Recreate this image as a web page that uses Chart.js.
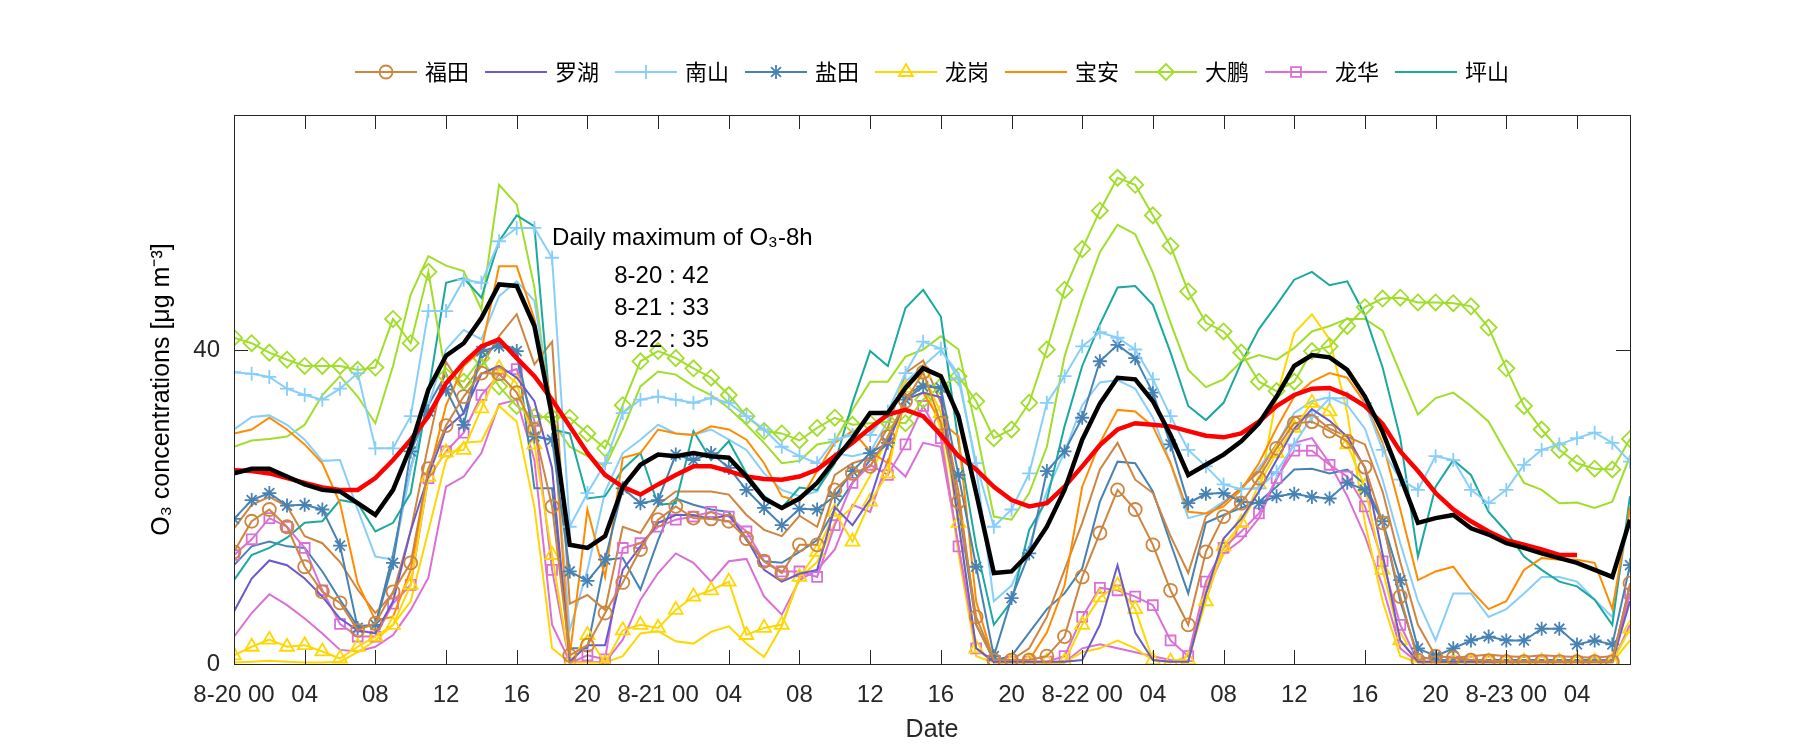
<html>
<head>
  <meta charset="utf-8">
  <title>O3 concentrations</title>
  <script src="https://cdn.jsdelivr.net/npm/chart.js"></script>
  <style>
    body { margin: 0; background: #fff; }
  </style>
</head>
<body>
  <canvas id="o3Chart" width="1800" height="750"></canvas>

  <script>
    // hours since 8-20 00:00
    const hours = Array.from({ length: 80 }, (_, i) => i);

    // tick labels, one every 4 hours
    const xTickLabels = ['8-20 00', '04', '08', '12', '16', '20',
                         '8-21 00', '04', '08', '12', '16', '20',
                         '8-22 00', '04', '08', '12', '16', '20',
                         '8-23 00', '04'];
    const yTicks = [0, 40];

    const stationNames = ['福田', '罗湖', '南山', '盐田', '龙岗', '宝安', '大鹏', '龙华', '坪山'];

    // station series (marker lines)
    const futianM = [14.3, 18.2, 19.7, 17.5, 12.4, 9.2, 7.8, 4.3, 5.2, 9.2,
      12.9, 24.9, 30.4, 34.1, 37.1, 37, 34.6, 29.9, 20.1, 1.1,
      2.4, 6.5, 10.4, 14.6, 18.4, 20.1, 18.6, 18.5, 18.2, 16,
      13.1, 11.6, 15.2, 15.2, 22.2, 24.3, 25.2, 29, 33.5, 37.2,
      30.7, 20.7, 6, 0.5, 0.5, 0.5, 1, 3.5, 11.1, 16.7,
      22.2, 19.7, 15.2, 9.4, 5, 14.3, 18.8, 20.5, 23.7, 27.5,
      30.7, 30.9, 29.7, 28.4, 25.1, 18, 8.6, 0.5, 1, 0.8,
      0.5, 0.4, 0.3, 0.3, 0.3, 0.3, 0.3, 0.3, 0.3, 10.3];
    const luohu = [6.7, 10.9, 13.2, 12.6, 10.9, 8.6, 5.8, 4.3, 3.9, 8,
      17, 24, 30, 32, 37, 38, 36.5, 33.5, 25, 0.3,
      2.4, 2.4, 12, 15, 18, 19, 19, 18.5, 19, 16,
      12, 10.5, 11.5, 12, 20, 17.7, 21, 28, 33.7, 34.6,
      34, 18, 2, 0.3, 0.3, 0.3, 0.3, 0.3, 0.5, 5,
      12.6, 4, 0.5, 0.3, 0.3, 9, 16, 18.5, 22, 26,
      30, 32.5, 31, 29, 25, 14, 3, 0.3, 0.3, 0.3,
      0.3, 0.3, 0.3, 0.3, 0.3, 0.3, 0.3, 0.3, 0.3, 8];
    const nanshanM = [37.2, 37, 36.6, 35.1, 34.3, 33.7, 35.1, 37.1, 27.5, 27.5,
      31.6, 45, 45, 49, 48.6, 53.9, 55.6, 55.6, 51.8, 17.5,
      21.8, 25.6, 32, 33.7, 34.1, 33.7, 33.3, 33.9, 33.3, 31.6,
      29.9, 27.7, 26.5, 25.6, 28.6, 29.2, 29.2, 32.2, 37.1, 41.1,
      40.2, 36.3, 25.6, 17.5, 19.7, 24.3, 33.3, 36.7, 40.5, 42.3,
      41.6, 40.1, 36.3, 31.6, 27.3, 25.2, 22.9, 22.3, 22.4, 24.5,
      28, 31.5, 33.9, 33.9, 33.3, 27.3, 23.5, 22.2, 26.5, 26,
      22.2, 20.5, 22.2, 25.4, 27.3, 28, 28.8, 29.5, 28.2, 25.8];
    const yantianM = [18.5, 20.9, 21.8, 20.2, 20.3, 19.7, 15.1, 4.6, 5, 12.9,
      27.1, 32.2, 35, 30.5, 39.9, 40.5, 39.9, 29, 28.6, 11.8,
      10.6, 13.3, 22.4, 20.5, 20.9, 26.7, 26, 26.9, 25, 22.2,
      19.9, 17.7, 19.8, 19.7, 21.4, 24.6, 26.9, 28.2, 33.7, 35.4,
      35.2, 24.1, 12.4, 1, 8.4, 14.1, 24.6, 27.1, 31.4, 38.6,
      40.7, 39, 34.6, 28, 20.5, 21.7, 21.8, 20.7, 20.5, 21.4,
      21.7, 21.3, 21.1, 23.1, 22.2, 18.2, 10.7, 2, 1, 2,
      3, 3.5, 3, 3, 4.5, 4.5, 2.5, 3, 2.5, 12.6];
    const longgangM = [1.1, 2.2, 3.1, 2.2, 2.4, 1.6, 0.7, 2.2, 3.5, 5,
      10.1, 23.9, 27, 27.3, 32.6, 37.7, 35.8, 28, 13.9, 0.1,
      3.7, 0.1, 4.3, 5, 4.6, 6.9, 8.6, 9.4, 10.5, 3.7,
      4.6, 5, 11.1, 14.3, 19.4, 15.6, 20.7, 24.3, 35.2, 37.1,
      32, 18, 2, 0.3, 0.3, 0.3, 0.3, 0.3, 5, 8.5,
      10, 7, 0.5, 0.3, 0.5, 8, 15, 18, 22.9, 26.9,
      30.1, 33.3, 32.2, 28, 22.6, 12, 3, 0.3, 0.3, 0.3,
      0.3, 0.3, 0.3, 0.3, 0.3, 0.3, 0.3, 0.3, 0.3, 4.5];
    const baoan = [29.4, 29.9, 31.4, 29.9, 28, 25.6, 20.5, 10.3, 5.6, 6,
      12, 24, 33, 38, 40, 50.7, 50.7, 44, 33, 1,
      19.7, 11.1, 26.3, 26.9, 29.9, 29.4, 29.2, 30.3, 29.9, 28.6,
      25.6, 21.4, 20.7, 24.6, 28.2, 29.7, 27.1, 25.6, 33.7, 34.6,
      30.9, 29, 8, 0.3, 0.3, 0.5, 4, 10, 22.6, 28.2,
      32.4, 32.2, 30.3, 25.6, 19.4, 19.2, 20.1, 22.2, 25.6, 30.1,
      34.1, 36, 37.1, 36.5, 33.3, 28.2, 19.7, 10.7, 11.8, 12.4,
      9.4, 7, 8, 12, 13.5, 13.3, 13.3, 12.9, 7, 20];
    const dapengM = [41.6, 40.9, 39.7, 38.8, 38, 38, 38, 37.5, 37.8, 44,
      40.9, 50, 36.7, 36, 39, 35.4, 32.9, 31.5, 31.5, 31.4,
      29.4, 27.5, 33, 38.6, 39.9, 39, 37.7, 36.5, 34.3, 31.6,
      29.7, 29.4, 28.5, 30.1, 31.4, 30.5, 30.7, 30.9, 30.7, 33.7,
      35.4, 36.7, 33.5, 28.8, 29.9, 33.3, 40.1, 47.7, 52.9, 57.8,
      62, 61.1, 57.2, 53.3, 47.5, 43.5, 42.4, 39.7, 36, 34.8,
      36, 39.9, 40.5, 43.1, 45.5, 46.6, 46.7, 46.1, 46.1, 46,
      45.6, 42.9, 37.7, 32.9, 29.9, 27.3, 25.6, 24.9, 24.8, 28.7];
    const longhuaM = [13.9, 15.9, 18.6, 17.5, 14.8, 9.4, 5.1, 3.5, 3.5, 7.7,
      10.1, 23.7, 27.1, 29.5, 34.3, 36.9, 37.6, 31, 12, 0.1,
      1.1, 0.6, 14.8, 15.4, 17.5, 18.4, 18.8, 19.4, 18.8, 16.9,
      13.1, 11.8, 11.8, 11.1, 17.7, 23.1, 25.4, 24.1, 28, 32.9,
      28.8, 15, 2, 0.3, 0.3, 0.3, 0.3, 1, 6, 9.7,
      9.4, 8.6, 7.5, 3, 1, 10.5, 14.8, 16.9, 19.2, 23.7,
      27.2, 27.2, 25.4, 23.9, 20.1, 13.1, 5, 0.3, 0.3, 0.3,
      0.3, 0.3, 0.3, 0.3, 0.3, 0.3, 0.3, 0.3, 0.3, 9];
    const pingshan = [10.7, 13.9, 14.8, 16.1, 18, 18.2, 20.9, 20.5, 16.9, 18,
      21.8, 34.6, 48.6, 49.2, 46.7, 53.9, 57.2, 55.8, 29.9, 29.4,
      21.1, 21.4, 24.8, 26.9, 20.3, 20.5, 29.7, 26, 28.4, 24.3,
      21.4, 19.9, 22.5, 22.2, 25.6, 33.3, 39.9, 38, 45.4, 47.7,
      44.3, 28.2, 15, 5, 8, 17.1, 20.9, 30.3, 38, 43.3,
      48, 48.2, 45.8, 39.7, 32.9, 31.1, 33.3, 38.4, 42.7, 45.8,
      49, 50, 48.3, 48.8, 44.5, 37.8, 28.8, 13.7, 22.6, 26,
      24.1, 19.4, 16.9, 13.7, 12, 10.5, 9.9, 8.2, 5, 21.4];

    // second line of the same stations (no markers)
    const futianP = [17.3, 20.3, 21.3, 20.1, 16.3, 15.4, 13, 9.5, 6.5, 9,
      17, 28, 38.5, 35, 38, 41.8, 44.6, 38.2, 41.1, 7.7,
      8.8, 6.9, 17.5, 16.7, 20.3, 22, 22, 22, 21.6, 19,
      17.1, 16.3, 18.9, 17.5, 24.1, 25.6, 26.3, 30.1, 37.1, 38.7,
      33.3, 22, 5, 0.5, 0.5, 2, 6, 12, 18, 24.8,
      28.2, 23.5, 21.8, 16.3, 11.6, 18.8, 20.5, 22.5, 24.5, 28,
      31.5, 31.8, 30, 29, 28, 22, 13, 5, 1, 0.8,
      1, 1.2, 1, 0.9, 1.1, 1, 0.9, 0.8, 1, 9];
    const nanshanP = [29.9, 31.5, 31.7, 30.5, 28.6, 25.9, 26, 19.7, 13.7, 13.3,
      24.8, 33, 40.1, 42.6, 41.4, 46.9, 48.8, 46.3, 32, 4.3,
      12, 22, 26.9, 28.6, 30.5, 29.4, 29.2, 29.9, 28.6, 27.3,
      24.3, 22.2, 21.4, 22, 26.9, 26.5, 27, 31, 36, 38,
      40, 37, 25, 8, 10, 15, 22, 27, 33, 35.9,
      36.2, 35.1, 31.4, 25.6, 18.6, 19.2, 20.7, 22.2, 25, 28,
      32, 33.5, 34, 33, 30, 23.5, 15.4, 8, 3, 9,
      9, 6, 7, 9, 11.1, 11.1, 10.5, 8.2, 6, 19.7];
    const yantianP = [12.6, 15, 15.6, 15, 14.8, 11.8, 8.2, 4.8, 5, 14,
      25, 33, 37, 32, 39, 41, 40, 22.4, 22.4, 2,
      2, 13.3, 13.5, 9.5, 15.8, 21.1, 20.3, 19.7, 19.4, 15.8,
      13.1, 12.9, 14.3, 15.8, 19.7, 23.1, 26, 28.2, 34.1, 35.7,
      35.2, 20, 5, 0.5, 1, 4, 7, 9, 12.2, 20.7,
      25.8, 25.6, 22, 15.4, 9, 18, 19, 19.9, 20.7, 22.6,
      24.8, 24.9, 24.3, 24.8, 22.9, 18.2, 8, 1, 0.5, 0.5,
      0.5, 0.5, 0.5, 0.5, 0.5, 0.5, 0.5, 0.5, 0.5, 10];
    const longgangP = [0.2, 0.3, 0.4, 0.3, 0.2, 0.2, 0.3, 1.5, 3, 5,
      8, 17, 26, 28.2, 28.4, 32.9, 30.9, 20, 2, 0.2,
      0.2, 0.2, 1, 3.9, 4.2, 2.9, 2.6, 4.1, 4.8, 2.6,
      0.9, 4.8, 11, 13, 18, 20, 24, 29, 33.5, 36,
      30, 14, 1, 0.2, 0.2, 0.2, 0.2, 0.2, 1.5, 2,
      3, 2, 0.5, 0.2, 1, 10, 14, 18, 22, 34,
      42.2, 44.6, 41.4, 32, 18, 8, 1, 0.2, 0.2, 0.2,
      0.2, 0.2, 0.2, 0.2, 0.2, 0.2, 0.2, 0.2, 0.2, 3];
    const dapengP = [27.7, 28.5, 28.7, 29, 30.5, 34.3, 36.7, 34.1, 30.7, 38,
      47.1, 52, 50.8, 50.1, 45.2, 61.1, 58.6, 48, 31, 27.7,
      26.5, 25.2, 29.9, 35.4, 37.3, 36.9, 35.4, 34.3, 32.6, 30.5,
      28.2, 25.6, 25.9, 28, 28.4, 32.4, 36, 36, 39.2, 40.1,
      41.8, 40.1, 29.9, 18.8, 18.4, 21.8, 27.7, 39.2, 46.3, 52.5,
      56, 54.8, 49.9, 43.5, 37.5, 35.3, 36.3, 38.6, 39.4, 38.8,
      40.3, 42.4, 43.1, 44, 44, 42.5, 37.1, 31.8, 33.9, 34.6,
      32.9, 30.9, 26.9, 23.1, 22.2, 20.5, 20.6, 19.9, 20.7, 26.5];
    const longhuaP = [3.5, 6.5, 8.9, 7.5, 5.8, 3.9, 1.8, 1.6, 2.2, 3.7,
      6.9, 11, 22.6, 23.9, 26.9, 33.1, 33.7, 26, 5, 0.3,
      0.3, 0.2, 3.1, 8.2, 11.6, 14.1, 12.9, 10.5, 13.1, 13.4,
      8.6, 6.3, 10.7, 12, 14.6, 20.3, 19.4, 26, 23.9, 28.2,
      27.7, 15, 2, 0.2, 0.2, 0.2, 0.2, 0.2, 2, 2.5,
      2, 1.5, 1, 0.5, 0.3, 9, 14.1, 15.8, 18.6, 23.5,
      28.2, 28.8, 25.6, 21.4, 16.3, 9.9, 2, 0.2, 0.2, 0.2,
      0.2, 0.2, 0.2, 0.2, 0.2, 0.2, 0.2, 0.2, 0.2, 5];

    // city mean (black) and its 8h running mean (red)
    const cityMean = [24.3, 24.9, 24.9, 23.9, 22.9, 22.2, 22, 20.5, 19, 22.2,
      27.7, 35, 39.3, 40.9, 44.1, 48.4, 48.2, 43.1, 31.6, 15.2,
      14.8, 16.3, 22.6, 25.4, 26.7, 26.5, 26.9, 26.5, 26.3, 23.9,
      21.1, 19.9, 21.1, 23.1, 26, 28.8, 32, 32, 35.2, 37.7,
      36.7, 31.6, 21.8, 11.6, 11.8, 14.1, 17.5, 22.2, 28.6, 33.2,
      36.5, 36.3, 33.5, 29.2, 24.1, 25.4, 26.7, 28.4, 30.7, 34.1,
      38, 39.4, 39.1, 37.5, 34.1, 29.6, 23.9, 18, 18.6, 19,
      17.3, 16.5, 15.4, 14.8, 14.1, 13.5, 12.9, 12, 11.1, 18.4];
    const mean8h = [24.7, 24.6, 24.3, 23.7, 23.1, 22.5, 22.2, 22.2, 23.7, 26,
      28.6, 31.6, 35.8, 38.4, 40.5, 41.4, 39, 36.7, 33.7, 30.3,
      26.9, 24.1, 22.6, 21.6, 22.9, 24.1, 25.2, 25.2, 24.6, 23.9,
      23.6, 23.5, 23.9, 24.8, 26.5, 28.2, 30.1, 31.8, 32.4, 31.6,
      29.2, 26.5, 24.8, 22.6, 20.9, 20.1, 20.5, 22.6, 25.2, 27.9,
      29.9, 30.7, 30.5, 30.3, 29.7, 29.1, 28.9, 29.4, 30.9, 32.9,
      34.3, 35.1, 35.2, 34.3, 32.9, 30.6, 27.1, 24.6, 21.8, 19.7,
      18.2, 16.9, 15.8, 15.2, 14.6, 13.9, 13.9];

    const annotationLines = ['Daily maximum of O₃-8h', '8-20 : 42', '8-21 : 33', '8-22 : 35'];

    const colors = {
      futian: '#CD853F', luohu: '#6A5ACD', nanshan: '#87CEFA', yantian: '#4682B4',
      longgang: '#FFD700', baoan: '#FF8C00', dapeng: '#A0DE2A', longhua: '#DA70D6',
      pingshan: '#1BA99F'
    };
    const axisColor = '#262626';
    const tickFont = { family: 'Liberation Sans, Arial, sans-serif', size: 24 };
    const titleFont = { family: 'Liberation Sans, Arial, sans-serif', size: 25 };

    // marker look of the 9 stations (for data and legend)
    const markers = [
      { style: 'circle', r: 6.5 },
      { style: false, r: 0 },
      { style: 'cross', r: 7 },
      { style: 'star', r: 7 },
      { style: 'triangle', r: 8 },
      { style: false, r: 0 },
      { style: 'rectRot', r: 8 },
      { style: 'rect', r: 7 },
      { style: false, r: 0 }
    ];
    const stationColors = [colors.futian, colors.luohu, colors.nanshan, colors.yantian,
      colors.longgang, colors.baoan, colors.dapeng, colors.longhua, colors.pingshan];
    const markerSeries = [futianM, luohu, nanshanM, yantianM, longgangM, baoan, dapengM, longhuaM, pingshan];

    function stationDataset(i) {
      const m = markers[i];
      return {
        label: stationNames[i],
        data: markerSeries[i],
        borderColor: stationColors[i],
        backgroundColor: 'rgba(0,0,0,0)',
        borderWidth: 2,
        pointStyle: m.style || 'circle',
        pointRadius: m.style ? m.r : 0,
        pointBorderWidth: 1.8,
        pointBorderColor: stationColors[i],
        pointBackgroundColor: 'rgba(0,0,0,0)',
        order: 3
      };
    }

    function plainDataset(data, color) {
      return {
        label: '',
        data: data,
        borderColor: color,
        backgroundColor: 'rgba(0,0,0,0)',
        borderWidth: 2,
        pointRadius: 0,
        order: 4
      };
    }

    const datasets = [];
    for (let i = 0; i < 9; i++) datasets.push(stationDataset(i));
    datasets.push(plainDataset(futianP, colors.futian));
    datasets.push(plainDataset(nanshanP, colors.nanshan));
    datasets.push(plainDataset(yantianP, colors.yantian));
    datasets.push(plainDataset(longgangP, colors.longgang));
    datasets.push(plainDataset(dapengP, colors.dapeng));
    datasets.push(plainDataset(longhuaP, colors.longhua));
    datasets.push({ label: 'mean', data: cityMean, borderColor: '#000', borderWidth: 4.5, pointRadius: 0, order: 0 });
    datasets.push({ label: '8h', data: mean8h, borderColor: '#FF0000', borderWidth: 4.5, pointRadius: 0, order: 1 });

    // small legend swatches: line with marker in the middle
    function makeSwatch(i) {
      const c = document.createElement('canvas');
      c.width = 62; c.height = 22;
      const ctx = c.getContext('2d');
      ctx.strokeStyle = stationColors[i];
      ctx.fillStyle = 'rgba(0,0,0,0)';
      ctx.lineWidth = 2;
      ctx.beginPath(); ctx.moveTo(0, 11); ctx.lineTo(62, 11); ctx.stroke();
      const m = markers[i];
      if (m.style && Chart.helpers && Chart.helpers.drawPoint) {
        ctx.lineWidth = 1.8;
        Chart.helpers.drawPoint(ctx, { pointStyle: m.style, radius: m.r, borderWidth: 1.8, rotation: 0 }, 31, 11);
      }
      return c;
    }

    const boxPlugin = {
      id: 'boxPlugin',
      afterDatasetsDraw(chart) {
        const { ctx, chartArea: a, scales } = chart;
        ctx.save();
        ctx.strokeStyle = axisColor;
        ctx.lineWidth = 1;
        ctx.strokeRect(a.left + 0.5, a.top + 0.5, a.right - a.left, a.bottom - a.top);
        const tl = 14;
        ctx.beginPath();
        scales.x.ticks.forEach(t => {
          const x = Math.round(scales.x.getPixelForValue(t.value)) + 0.5;
          ctx.moveTo(x, a.bottom); ctx.lineTo(x, a.bottom - tl);
          ctx.moveTo(x, a.top); ctx.lineTo(x, a.top + tl);
        });
        scales.y.ticks.forEach(t => {
          const y = Math.round(scales.y.getPixelForValue(t.value)) + 0.5;
          ctx.moveTo(a.left, y); ctx.lineTo(a.left + tl, y);
          ctx.moveTo(a.right, y); ctx.lineTo(a.right - tl, y);
        });
        ctx.stroke();

        // annotation
        ctx.fillStyle = '#000';
        ctx.font = '24px "Liberation Sans", Arial, sans-serif';
        ctx.textBaseline = 'middle';
        ctx.textAlign = 'left';
        ctx.fillText(annotationLines[0], scales.x.getPixelForValue(18), scales.y.getPixelForValue(54.3));
        ctx.textAlign = 'center';
        [49.4, 45.3, 41.2].forEach((v, k) => {
          ctx.fillText(annotationLines[k + 1], scales.x.getPixelForValue(24.2), scales.y.getPixelForValue(v));
        });

        // legend
        ctx.font = '22px "Noto Sans CJK SC", sans-serif';
        ctx.textAlign = 'left';
        const lineLen = 62, gapIn = 8, gapOut = 16;
        const widths = stationNames.map(n => lineLen + gapIn + ctx.measureText(n).width);
        const total = widths.reduce((s, w) => s + w, 0) + gapOut * (widths.length - 1);
        let x = (a.left + a.right) / 2 - total / 2;
        const y = 72;
        stationNames.forEach((n, i) => {
          ctx.drawImage(swatches[i], x, y - 11);
          ctx.fillStyle = '#000';
          ctx.fillText(n, x + lineLen + gapIn, y);
          x += widths[i] + gapOut;
        });
        ctx.restore();
      }
    };

    let swatches = [];

    document.addEventListener('DOMContentLoaded', function () {
      swatches = stationNames.map((_, i) => makeSwatch(i));
      new Chart(document.getElementById('o3Chart'), {
        type: 'line',
        data: { labels: hours, datasets: datasets },
        options: {
          responsive: false,
          animation: false,
          devicePixelRatio: 1,
          layout: { padding: { top: 115, right: 170, left: 0, bottom: 0 } },
          elements: { line: { tension: 0 } },
          plugins: { legend: { display: false }, tooltip: { enabled: false } },
          scales: {
            x: {
              type: 'linear',
              min: 0, max: 79,
              grid: { display: false },
              border: { display: false },
              ticks: {
                stepSize: 4,
                includeBounds: false,
                autoSkip: false,
                maxRotation: 0,
                padding: 9,
                color: axisColor,
                font: tickFont,
                callback: v => xTickLabels[v / 4]
              },
              title: { display: true, text: 'Date', color: axisColor, font: titleFont, padding: { top: 0, bottom: 5 } },
              afterFit: s => { s.height = 86; }
            },
            y: {
              min: 0, max: 70,
              grid: { display: false },
              border: { display: false },
              afterBuildTicks: s => { s.ticks = yTicks.map(v => ({ value: v })); },
              ticks: { padding: 6, color: axisColor, font: tickFont },
              title: {
                display: true, text: 'O₃ concentrations [μg m⁻³]', color: '#000',
                font: titleFont, padding: { top: 147, bottom: 0 }
              },
              afterFit: s => { s.width = 234; }
            }
          }
        },
        plugins: [boxPlugin]
      });
    });
  </script>
</body>
</html>
